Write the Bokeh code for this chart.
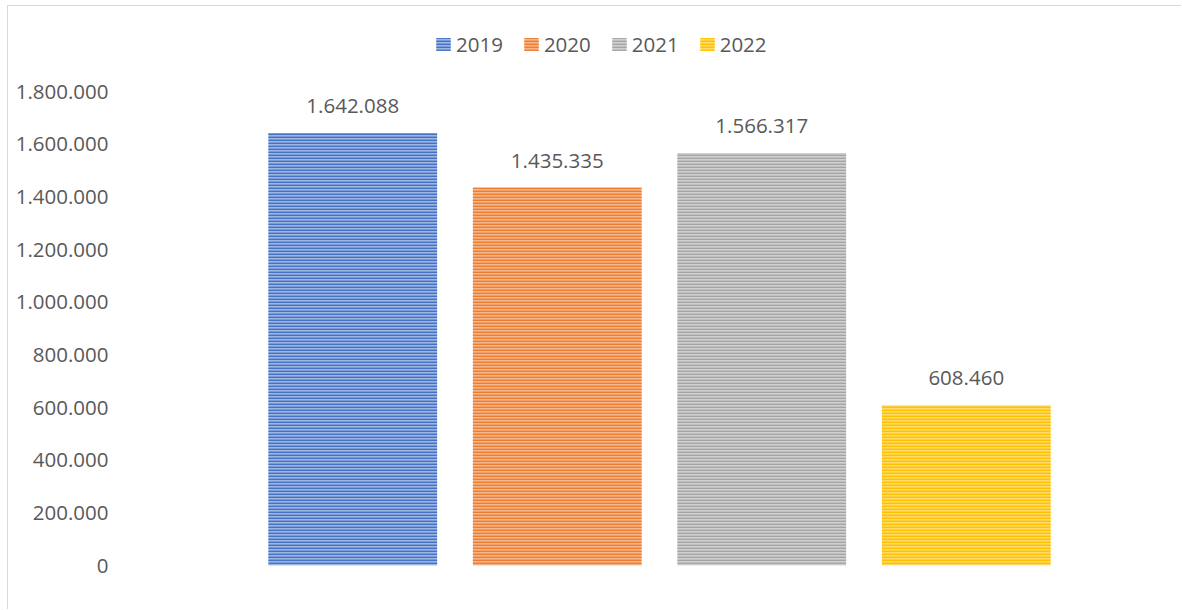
from bokeh.plotting import figure
from bokeh.models import (ColumnDataSource, FactorRange, Range1d, FixedTicker,
                          LabelSet, Legend, LegendItem)
from bokeh.core.properties import value
from bokeh.embed import file_html
from bokeh.resources import INLINE

years = ["2019", "2020", "2021", "2022"]
values = [1642088, 1435335, 1566317, 608460]
value_labels = ["1.642.088", "1.435.335", "1.566.317", "608.460"]
colors = ["#4472C4", "#ED7D31", "#A5A5A5", "#FFC000"]
light_colors = ["#9DB5E0", "#F5B58A", "#CFCFCF", "#FFDA66"]
y_ticks = [0, 200000, 400000, 600000, 800000, 1000000, 1200000, 1400000, 1600000, 1800000]
y_tick_labels = ["0", "200.000", "400.000", "600.000", "800.000", "1.000.000",
                 "1.200.000", "1.400.000", "1.600.000", "1.800.000"]

FONT = "Open Sans"
TXT = "#595959"

W, H = 1174, 604
# figure sits 7px right / 5px down with a 1px grey border (chart area frame)
OX, OY = 8, 6
# plot frame spans page y=10..565 px; 1.800.000 sits at page y=91 px
Y_MAX = 1800000
Y_END = Y_MAX * (565 - 10) / (565 - 91)

p = figure(width=W, height=H, output_backend="svg", toolbar_location=None,
           x_range=FactorRange(factors=years, range_padding=0),
           y_range=Range1d(0, Y_END))
p.margin = (5, 0, 0, 7)
p.styles = {"border-top": "1px solid #D9D9D9", "border-left": "1px solid #D9D9D9"}
p.min_border_left = 250 - OX
p.min_border_right = OX + W - 1068
p.min_border_bottom = OY + H - 565
p.min_border_top = 10 - OY
p.outline_line_color = None
p.background_fill_color = "white"
p.border_fill_color = "white"
p.xgrid.visible = False
p.ygrid.visible = False
p.xaxis.visible = False

p.yaxis.ticker = FixedTicker(ticks=y_ticks)
p.yaxis.major_label_overrides = {t: l for t, l in zip(y_ticks, y_tick_labels)}
p.yaxis.axis_line_color = None
p.yaxis.major_tick_line_color = None
p.yaxis.minor_tick_line_color = None
p.yaxis.major_label_standoff = 136
p.yaxis.major_label_text_font = FONT
p.yaxis.major_label_text_font_size = "20.5px"
p.yaxis.major_label_text_color = TXT

src = ColumnDataSource(dict(x=years, top=values, lab=value_labels))

items = []
for i, yr in enumerate(years):
    s = ColumnDataSource(dict(x=[years[i]], top=[values[i]]))
    r = p.vbar(x="x", top="top", width=0.825, source=s,
               fill_color=light_colors[i], line_color=None,
               hatch_pattern="horizontal_line", hatch_color=colors[i],
               hatch_scale=3, hatch_weight=1.8)
    items.append(LegendItem(label=yr, renderers=[r]))

labels = LabelSet(x="x", y="top", text="lab", source=src, text_align="center",
                  text_baseline="middle", y_offset=27, text_font=value(FONT),
                  text_font_size=value("20.5px"), text_color=value(TXT))
p.add_layout(labels)

legend = Legend(items=items, orientation="horizontal", location=(184, 507),
                label_text_font=FONT, label_text_font_size="20.5px",
                label_text_color=TXT, glyph_width=18, glyph_height=16,
                label_standoff=4, spacing=19, padding=0, margin=0,
                border_line_color=None, background_fill_alpha=0)
p.add_layout(legend)

open("out.html", "w").write(file_html(p, INLINE))
